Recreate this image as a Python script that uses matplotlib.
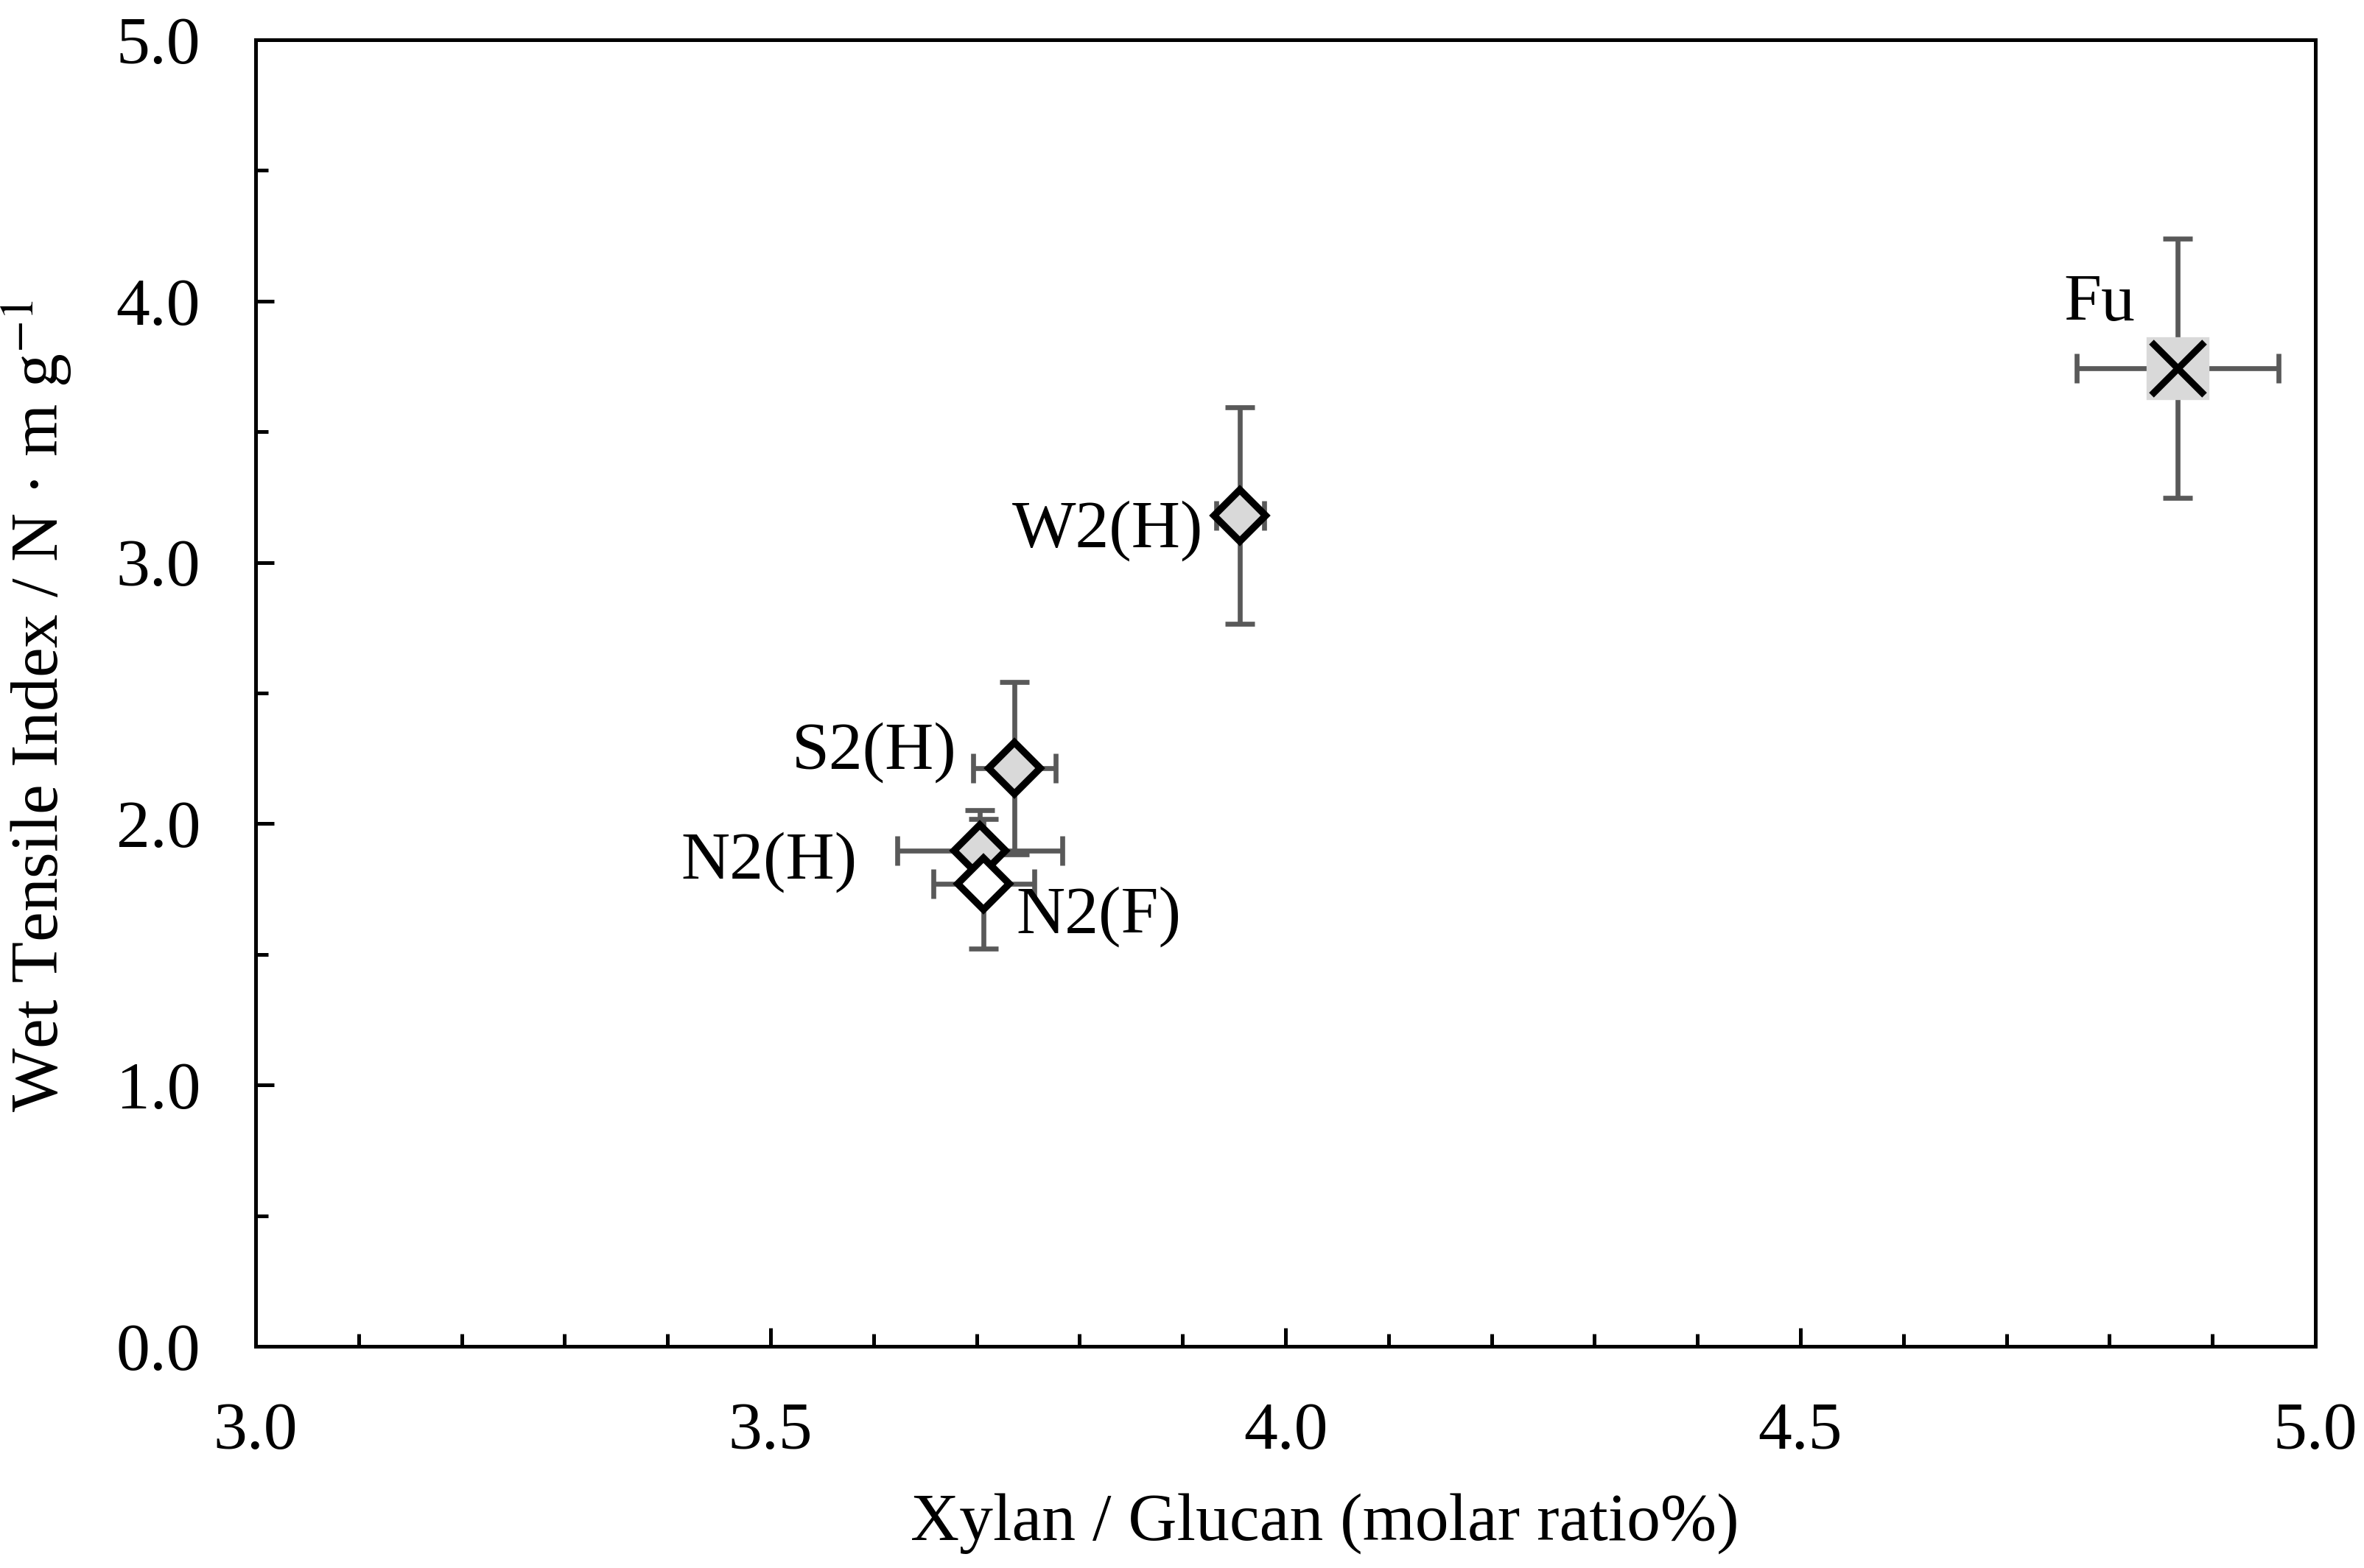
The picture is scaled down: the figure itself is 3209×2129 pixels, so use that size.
import matplotlib
matplotlib.use("Agg")
import matplotlib.pyplot as plt
from matplotlib.ticker import MultipleLocator, FormatStrFormatter

# ---- data ----
samples = ["N2(H)", "N2(F)", "S2(H)", "W2(H)", "Fu"]
xylan_glucan = [3.703, 3.707, 3.737, 3.956, 4.866]
xylan_err = [0.080, 0.049, 0.040, 0.023, 0.098]
wet_tensile = [1.897, 1.770, 2.212, 3.179, 3.743]
wet_err = [0.155, 0.248, 0.330, 0.415, 0.497]
markers = ["D", "D", "D", "D", "x"]
facecolors = ["#d9d9d9", "#ffffff", "#d9d9d9", "#d9d9d9", "#d9d9d9"]

# label placement (offset in points from point, ha, va)
label_style = {
    "N2(H)": ((-40, -9), "right", "baseline"),
    "N2(F)": ((10.5, -16), "left", "baseline"),
    "S2(H)": ((-19, 0), "right", "baseline"),
    "W2(H)": ((-12, -10.3), "right", "baseline"),
    "Fu": ((-25.5, 21), "center", "center"),
}

plt.rcParams["font.family"] = ["Liberation Serif", "DejaVu Serif"]
plt.rcParams["mathtext.fontset"] = "stix"

fig = plt.figure(figsize=(3209 / 300, 2129 / 300), dpi=300)
ax = fig.add_axes([347 / 3209, 1 - 1828 / 2129, (3143 - 347) / 3209, (1828 - 54) / 2129])

ebar_color = "#595959"
for name, x, xe, y, ye, m, fc in zip(samples, xylan_glucan, xylan_err, wet_tensile,
                                      wet_err, markers, facecolors):
    ax.errorbar(x, y, xerr=xe, yerr=ye, fmt="none", ecolor=ebar_color,
                elinewidth=1.6, capsize=4.7, capthick=1.6, zorder=2)
    if m == "x":
        ax.plot(x, y, marker="s", markersize=19.5, markerfacecolor=fc,
                markeredgecolor=fc, markeredgewidth=0.8, linestyle="none", zorder=3)
        ax.plot(x, y, marker="x", markersize=17.5, markeredgecolor="black",
                markeredgewidth=2.2, linestyle="none", zorder=4)
    else:
        ax.plot(x, y, marker="D", markersize=12, markerfacecolor=fc,
                markeredgecolor="black", markeredgewidth=2.3, linestyle="none", zorder=3)
    (dx, dy), ha, va = label_style[name]
    ax.annotate(name, (x, y), xytext=(dx, dy), textcoords="offset points",
                ha=ha, va=va, fontsize=22, zorder=5)

ax.set_xlim(3.0, 5.0)
ax.set_ylim(0.0, 5.0)
ax.xaxis.set_major_locator(MultipleLocator(0.5))
ax.xaxis.set_minor_locator(MultipleLocator(0.1))
ax.yaxis.set_major_locator(MultipleLocator(1.0))
ax.yaxis.set_minor_locator(MultipleLocator(0.5))
ax.xaxis.set_major_formatter(FormatStrFormatter("%.1f"))
ax.yaxis.set_major_formatter(FormatStrFormatter("%.1f"))
ax.tick_params(axis="both", which="both", direction="in", top=False, right=False,
               width=1.2, labelsize=22)
ax.tick_params(axis="both", which="major", length=6, pad=18)
ax.tick_params(axis="both", which="minor", length=4)
for sp in ax.spines.values():
    sp.set_linewidth(1.2)

ax.set_xlabel("Xylan / Glucan (molar ratio%)", fontsize=22)
ax.set_ylabel("Wet Tensile Index / N · m g$^{-1}$", fontsize=22)
ax.xaxis.set_label_coords(0.519, -0.112)
ax.yaxis.set_label_coords(-0.088, 0.49)

fig.savefig("out.png", dpi=300, facecolor="white")
